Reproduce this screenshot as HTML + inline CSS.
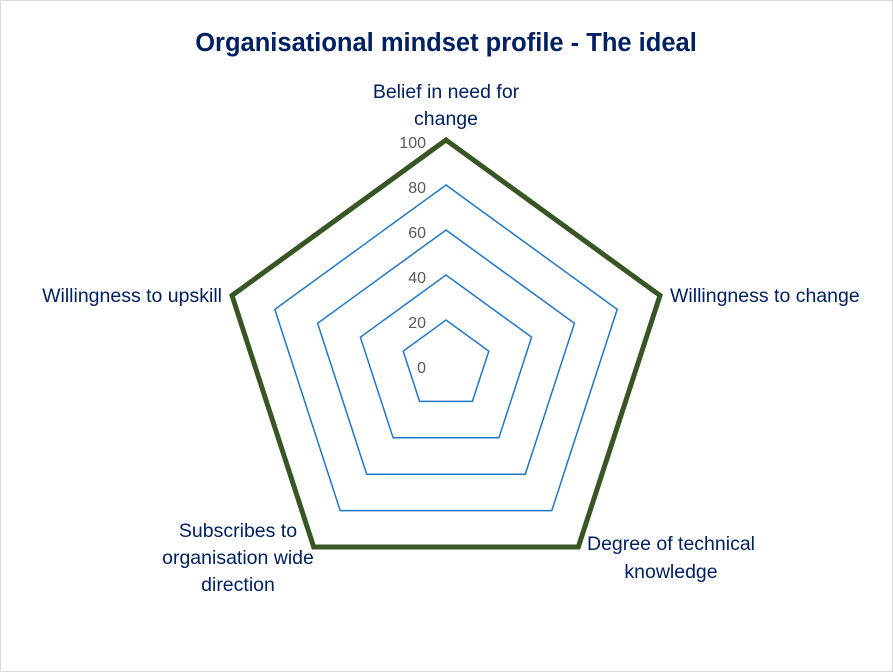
<!DOCTYPE html>
<html><head><meta charset="utf-8"><style>
body{margin:0;background:#fff}
svg{display:block}
text{font-family:"Liberation Sans",sans-serif}
</style></head><body>
<svg width="893" height="672" viewBox="0 0 893 672" xmlns="http://www.w3.org/2000/svg">
<rect x="0.5" y="0.5" width="892" height="671" fill="#fff" stroke="#d9d9d9"/>
<text x="446" y="51" text-anchor="middle" font-size="25.5" font-weight="bold" fill="#002060">Organisational mindset profile - The ideal</text>
<g fill="none" stroke="#1f77c4" stroke-width="1.5">
<polygon points="446,320 488.8,351.1 472.4,401.4 419.6,401.4 403.2,351.1"/>
<polygon points="446,275 531.6,337.2 498.9,437.8 393.1,437.8 360.4,337.2"/>
<polygon points="446,230 574.4,323.3 525.3,474.2 366.7,474.2 317.6,323.3"/>
<polygon points="446,185 617.2,309.4 551.8,510.6 340.2,510.6 274.8,309.4"/>
</g>
<polygon points="446,140 660,295.5 578.3,547 313.7,547 232,295.5" fill="none" stroke="#375623" stroke-width="5" stroke-linejoin="miter"/>
<g font-size="16" fill="#595959" text-anchor="end">
<text x="426" y="148">100</text>
<text x="426" y="193">80</text>
<text x="426" y="238">60</text>
<text x="426" y="283">40</text>
<text x="426" y="328">20</text>
<text x="426" y="373">0</text>
</g>
<g font-size="19.5" fill="#002060">
<text x="446" y="98" text-anchor="middle">Belief in need for</text>
<text x="446" y="125" text-anchor="middle">change</text>
<text x="670" y="302">Willingness to change</text>
<text x="222" y="302" text-anchor="end">Willingness to upskill</text>
<text x="671" y="550" text-anchor="middle">Degree of technical</text>
<text x="671" y="578" text-anchor="middle">knowledge</text>
<text x="238" y="537" text-anchor="middle">Subscribes to</text>
<text x="238" y="564" text-anchor="middle">organisation wide</text>
<text x="238" y="591" text-anchor="middle">direction</text>
</g>
</svg>
</body></html>
